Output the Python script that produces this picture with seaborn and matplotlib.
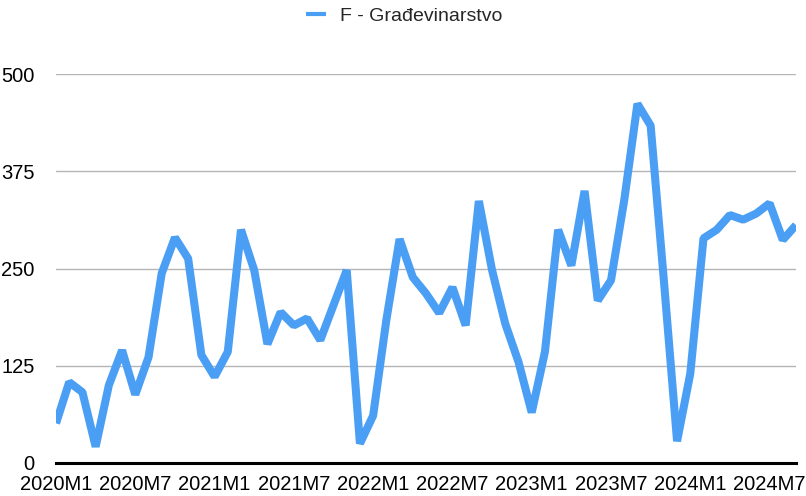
import numpy as np
import pandas as pd
import matplotlib
matplotlib.use('Agg')
import matplotlib.pyplot as plt
import seaborn as sns

# monthly values, 2020M1 .. 2024M9
years = [2020, 2021, 2022, 2023, 2024]
values = [51, 104, 91, 21, 100, 145, 88, 136, 244, 290, 263, 139,
          111, 143, 300, 248, 153, 194, 177, 186, 158, 203, 248, 25,
          61, 184, 288, 239, 218, 193, 226, 177, 337, 248, 179, 130,
          65, 143, 300, 254, 350, 209, 235, 338, 462, 434, 235, 28,
          115, 289, 300, 319, 313, 321, 334, 287, 306]
series_name = 'F - Građevinarstvo'
y_ticks = [0, 125, 250, 375, 500]

periods = [f'{y}M{m}' for y in years for m in range(1, 13)][:len(values)]
df = pd.DataFrame({'idx': range(len(values)), 'period': periods, 'value': values})

sns.set_style('white')
plt.rcParams['font.family'] = ['Liberation Sans', 'DejaVu Sans']

fig = plt.figure(figsize=(8.06, 4.96), dpi=100)
ax = fig.add_axes([56/806, 33/496, 740/806, (463-74.3)/496])

sns.lineplot(data=df, x='idx', y='value', ax=ax, color='#4A9FF5', linewidth=5.8,
             label=series_name, solid_joinstyle='bevel', solid_capstyle='butt')

ax.set_xlim(0, len(values) - 1)
ax.set_ylim(0, 500)
ax.set_yticks(y_ticks)
ax.set_yticklabels([str(t) for t in y_ticks])
xt = df['idx'][::6]
ax.set_xticks(xt)
ax.set_xticklabels(df['period'][::6])
ax.tick_params(axis='both', length=0, labelsize=14.5, colors='black')
ax.tick_params(axis='y', pad=15.5)
ax.tick_params(axis='x', pad=9)
ax.set_xlabel('')
ax.set_ylabel('')
ax.yaxis.grid(True, color='#b5b5b5', linewidth=1)
ax.set_axisbelow(True)
for s in ['top', 'right', 'left']:
    ax.spines[s].set_visible(False)
ax.spines['bottom'].set_color('black')
ax.spines['bottom'].set_linewidth(2.2)
ax.spines['bottom'].set_zorder(5)

leg = ax.legend(loc='upper center', bbox_to_anchor=(0.471, 1.218), frameon=False,
                fontsize=14, handlelength=1.0, handletextpad=0.75)
for h in leg.get_lines():
    h.set_linewidth(3)

plt.savefig('out.png', dpi=100)
